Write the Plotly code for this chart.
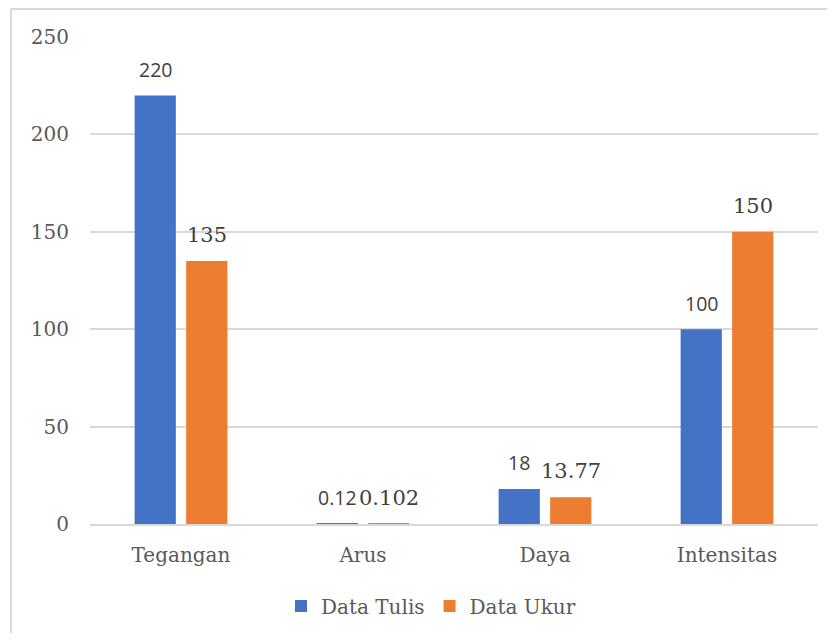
import plotly.graph_objects as go

categories = ["Tegangan", "Arus", "Daya", "Intensitas"]
data_tulis = [220, 0.12, 18, 100]
data_ukur = [135, 0.102, 13.77, 150]
label_tulis = ["220", "0.12", "18", "100"]
label_ukur = ["135", "0.102", "13.77", "150"]
y_ticks = [0, 50, 100, 150, 200, 250]

BLUE = "#4472C4"
ORANGE = "#ED7D31"
GRAY = "#595959"
GRID = "#D9D9D9"
SERIF = "DejaVu Serif"
SANS = "Open Sans"

OFF = 8  # page body margin
W, H = 835 - 2 * OFF, 641 - 2 * OFF
L, T = 90 - OFF, 37 - OFF
R = (W + OFF) - 818
B = (H + OFF) - 524

fig = go.Figure()
fig.add_trace(go.Bar(name="Data Tulis", x=categories, y=data_tulis,
                     marker=dict(color=BLUE, line=dict(width=0))))
fig.add_trace(go.Bar(name="Data Ukur", x=categories, y=data_ukur,
                     marker=dict(color=ORANGE, line=dict(width=0))))

for c, v, t in zip(categories, data_tulis, label_tulis):
    fig.add_annotation(x=c, y=v, text=t, showarrow=False, xshift=-25.75, yshift=26,
                       yanchor="middle", font=dict(family=SANS, size=19.5, color="#404040"))
for c, v, t in zip(categories, data_ukur, label_ukur):
    fig.add_annotation(x=c, y=v, text=t, showarrow=False, xshift=25.75, yshift=26,
                       yanchor="middle", font=dict(family=SERIF, size=21, color="#404040"))

pw = W - L - R
ph = H - T - B
def px(x):
    return (x - OFF - L) / pw
def py(y):
    return (H - B - (y - OFF)) / ph

# chart border: top and left edges, kept inside the figure bounds
fig.add_shape(type="line", xref="paper", yref="paper",
              x0=px(11), x1=px(W + OFF), y0=py(9), y1=py(9),
              line=dict(color=GRID, width=2))
fig.add_shape(type="line", xref="paper", yref="paper",
              x0=px(11), x1=px(11), y0=py(9), y1=py(H + OFF),
              line=dict(color=GRID, width=2))

fig.update_layout(
    width=W, height=H,
    margin=dict(l=L, r=R, t=T, b=B, autoexpand=False),
    paper_bgcolor="white", plot_bgcolor="white",
    barmode="group", bargap=0.434, bargroupgap=0.2,
    showlegend=True,
    legend=dict(orientation="h", x=px(281), xanchor="left", y=py(606), yanchor="middle",
                font=dict(family=SERIF, size=20, color=GRAY),
                traceorder="normal"),
    xaxis=dict(showgrid=False, showline=True, linecolor=GRID, linewidth=2,
               tickfont=dict(family=SERIF, size=20, color=GRAY),
               ticks="", ticklabelstandoff=12),
    yaxis=dict(range=[0, 250], tickvals=y_ticks, showgrid=True, gridcolor=GRID, gridwidth=1.5,
               zeroline=False, showline=False,
               tickfont=dict(family=SERIF, size=20, color=GRAY),
               ticks="", ticklabelstandoff=20),
)

fig.write_html("out.html")
